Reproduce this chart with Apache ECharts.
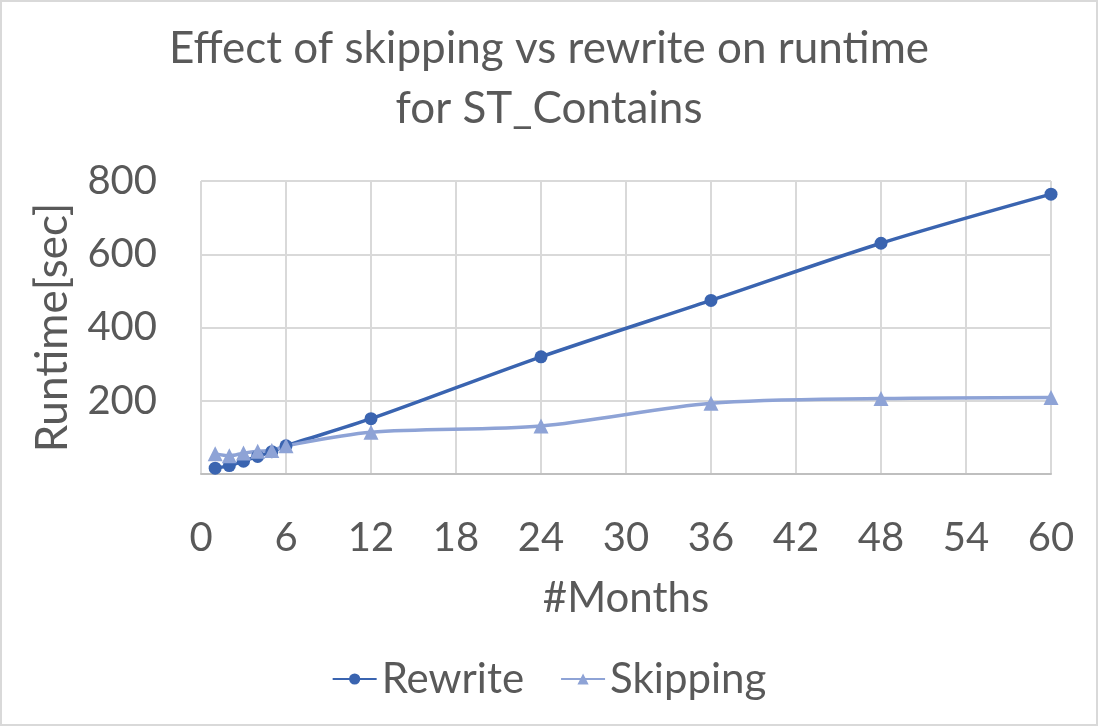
<!DOCTYPE html>
<html>
<head>
<meta charset="utf-8">
<script src="https://cdn.jsdelivr.net/npm/echarts@6/dist/echarts.min.js"></script>
<style>
  html, body { margin: 0; padding: 0; background: #fff; }
  #wrap { width: 1098px; height: 726px; box-sizing: border-box; border: 2px solid #d9d9d9; }
</style>
</head>
<body>
<div id="wrap"></div>
<script>
var months = [1, 2, 3, 4, 5, 6, 12, 24, 36, 48, 60];
var rewrite = [16, 23, 35, 48, 61, 77, 151, 320, 474, 630, 764];
var skipping = [55, 50, 57, 62, 64, 77, 114, 131, 193, 206, 209];
var xTicks = { min: 0, max: 60, interval: 6 };
var yTicks = { min: 0, max: 800, interval: 200 };

function pairs(ys) {
    var out = [];
    months.forEach(function(m, i) {
        out.push([m, ys[i]]);
    });
    return out;
}

var font = 'Lato';
var grey = '#595959';
var myChart = echarts.init(document.getElementById('wrap'));
var option = {
    animation: false,
    title: {
        text: 'Effect of skipping vs rewrite on runtime\nfor ST_Contains',
        left: 'center',
        top: 12,
        textStyle: {
            fontFamily: font,
            fontSize: 44,
            lineHeight: 60,
            fontWeight: 'normal',
            color: grey
        }
    },
    legend: {
        bottom: 19,
        left: 'center',
        itemWidth: 44,
        itemHeight: 14,
        itemGap: 36,
        textStyle: { fontFamily: font, fontSize: 42, color: grey },
        data: ['Rewrite', 'Skipping']
    },
    grid: { left: 199, right: 45, top: 179, bottom: 250 },
    xAxis: {
        type: 'value',
        min: xTicks.min,
        max: xTicks.max,
        interval: xTicks.interval,
        name: '#Months',
        nameLocation: 'middle',
        nameGap: 103,
        nameTextStyle: { fontFamily: font, fontSize: 42, color: grey },
        axisLine: { show: true, lineStyle: { color: '#bfbfbf', width: 2 } },
        axisTick: { show: false },
        axisLabel: { fontFamily: font, fontSize: 40, color: grey, margin: 44 },
        splitLine: { show: true, lineStyle: { color: '#d9d9d9', width: 2 } }
    },
    yAxis: {
        type: 'value',
        min: yTicks.min,
        max: yTicks.max,
        interval: yTicks.interval,
        name: 'Runtime[sec]',
        nameLocation: 'middle',
        nameGap: 126,
        nameTextStyle: { fontFamily: font, fontSize: 44, color: grey },
        axisLine: { show: false },
        axisTick: { show: false },
        axisLabel: {
            fontFamily: font, fontSize: 40, color: grey, margin: 44,
            formatter: function(v) { return v === 0 ? '' : v; }
        },
        splitLine: { show: true, lineStyle: { color: '#d9d9d9', width: 2 } }
    },
    series: [{
        name: 'Rewrite',
        type: 'line',
        data: pairs(rewrite),
        smooth: 0.3,
        symbol: 'circle',
        symbolSize: 13,
        itemStyle: { color: '#3a64b0' },
        lineStyle: { color: '#3a64b0', width: 3.5 }
    }, {
        name: 'Skipping',
        type: 'line',
        data: pairs(skipping),
        smooth: 0.3,
        symbol: 'triangle',
        symbolSize: 15,
        itemStyle: { color: '#8ea3d6' },
        lineStyle: { color: '#8ea3d6', width: 3.5 }
    }]
};
myChart.setOption(option);
</script>
</body>
</html>
